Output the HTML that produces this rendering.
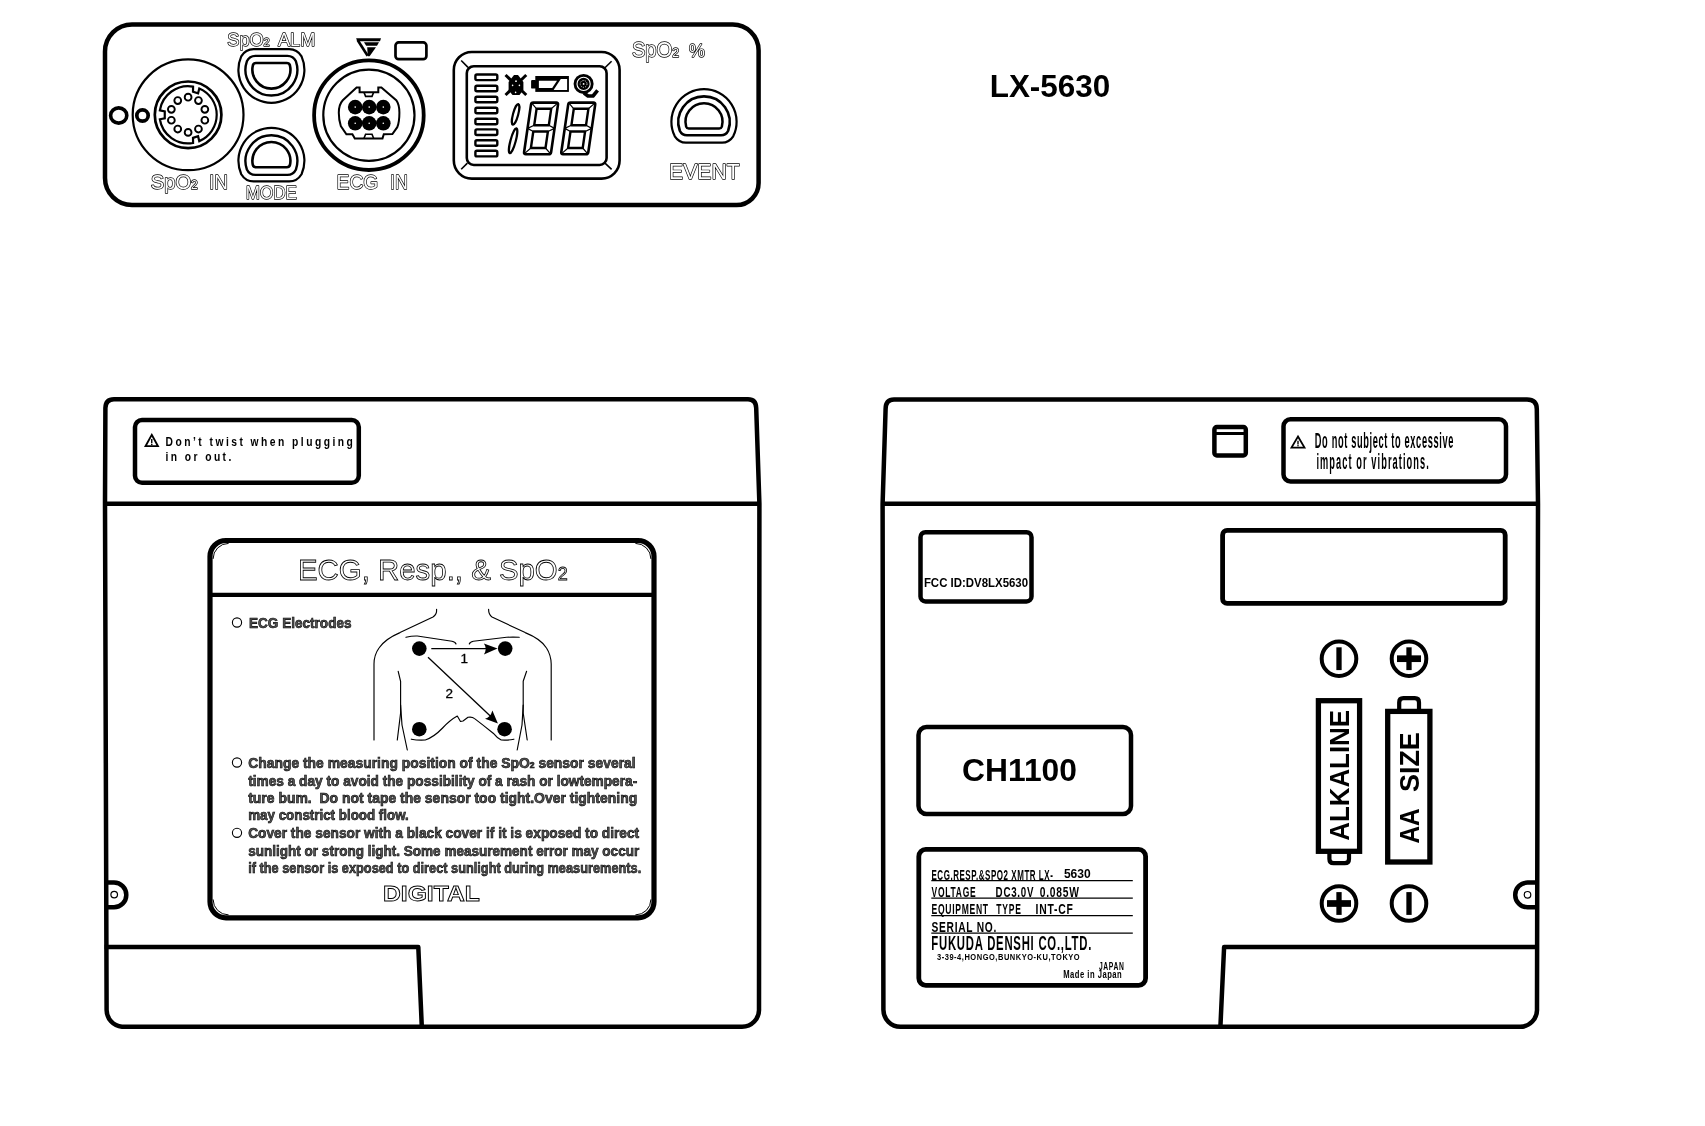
<!DOCTYPE html>
<html><head><meta charset="utf-8">
<style>
html,body{margin:0;padding:0;background:#fff;}
svg{display:block;will-change:transform;}
text{font-family:"Liberation Sans",sans-serif;}
</style></head>
<body>
<svg width="1705" height="1126" viewBox="0 0 1705 1126">
<rect x="0" y="0" width="1705" height="1126" fill="#fff"/>
<g fill="none" stroke="#000" stroke-linejoin="round">
<path d="M132,24.4 L732,24.4 A26,26 0 0 1 758.6,50.4 L758.6,183 A22,22 0 0 1 736.6,205 L132,205 A27,27 0 0 1 105,178 L105,51.4 A27,27 0 0 1 132,24.4 Z" stroke-width="4.5"/>
<circle cx="188.1" cy="114.8" r="55.4" stroke-width="2.2"/>
<circle cx="188.1" cy="114.8" r="33.3" stroke-width="2.7"/>
<path d="M199.27,88.47 A28.6,28.6 0 0 1 199.27,141.13 L198.07,136.19 L193.01,137.88 L193.07,142.97 A28.6,28.6 0 0 1 159.85,119.27 L164.76,118.29 L164.76,111.31 L159.85,110.33 A28.6,28.6 0 0 1 193.07,86.63 L193.01,91.72 L198.07,93.41 Z" stroke-width="2.2" stroke-linejoin="miter"/>
<circle cx="188.10" cy="97.20" r="3.4" stroke-width="1.9"/>
<circle cx="198.45" cy="100.56" r="3.4" stroke-width="1.9"/>
<circle cx="204.84" cy="109.36" r="3.4" stroke-width="1.9"/>
<circle cx="204.84" cy="120.24" r="3.4" stroke-width="1.9"/>
<circle cx="198.45" cy="129.04" r="3.4" stroke-width="1.9"/>
<circle cx="188.10" cy="132.40" r="3.4" stroke-width="1.9"/>
<circle cx="177.75" cy="129.04" r="3.4" stroke-width="1.9"/>
<circle cx="171.36" cy="120.24" r="3.4" stroke-width="1.9"/>
<circle cx="171.36" cy="109.36" r="3.4" stroke-width="1.9"/>
<circle cx="177.75" cy="100.56" r="3.4" stroke-width="1.9"/>
<ellipse cx="118.7" cy="115.5" rx="8.1" ry="7.6" stroke-width="3.6"/>
<circle cx="142.5" cy="115.5" r="5.7" stroke-width="3.7"/>
</g>
<g fill="none" stroke="#000">
<path d="M253.62,49.20 L289.18,49.20 Q297.18,49.20 301.56,56.40 A33.0,33.0 0 1 1 241.24,56.40 Q245.62,49.20 253.62,49.20 Z" stroke-width="2.2"/>
<path d="M255.42,55.90 L287.38,55.90 Q293.38,55.90 295.93,61.30 A25.9,25.9 0 1 1 246.87,61.30 Q249.42,55.90 255.42,55.90 Z" stroke-width="2.4"/>
<path d="M256.08,63.00 L286.72,63.00 Q289.22,63.00 289.90,65.25 A19.0,19.0 0 1 1 252.90,65.25 Q253.58,63.00 256.08,63.00 Z" stroke-width="2.6"/>
<path d="M253.62,181.40 L289.18,181.40 Q297.18,181.40 301.56,174.20 A33.0,33.0 0 1 0 241.24,174.20 Q245.62,181.40 253.62,181.40 Z" stroke-width="2.2"/>
<path d="M255.42,174.90 L287.38,174.90 Q293.38,174.90 295.93,169.50 A25.9,25.9 0 1 0 246.87,169.50 Q249.42,174.90 255.42,174.90 Z" stroke-width="2.4"/>
<path d="M255.94,167.20 L286.86,167.20 Q289.36,167.20 289.98,164.95 A19.0,19.0 0 1 0 252.82,164.95 Q253.44,167.20 255.94,167.20 Z" stroke-width="2.6"/>
<path d="M685.90,142.60 L722.10,142.60 Q729.10,142.60 733.20,136.30 A32.6,32.6 0 1 0 674.80,136.30 Q678.90,142.60 685.90,142.60 Z" stroke-width="2.2"/>
<path d="M686.95,135.30 L721.05,135.30 Q726.05,135.30 728.18,130.80 A25.7,25.7 0 1 0 679.82,130.80 Q681.95,135.30 686.95,135.30 Z" stroke-width="2.6"/>
<path d="M688.74,128.50 L719.26,128.50 Q721.26,128.50 721.85,126.70 A18.5,18.5 0 1 0 686.15,126.70 Q686.74,128.50 688.74,128.50 Z" stroke-width="2.5"/>
</g>
<g fill="none" stroke="#000">
<circle cx="368.9" cy="115.2" r="54.8" stroke-width="3.8"/>
<circle cx="368.9" cy="115.2" r="45.6" stroke-width="2.2"/>
<path d="M356.6,87.4 L359.6,87.4 L359.6,92.2 L378.3,92.2 L378.3,87.4 L381.4,87.4 L396.2,100.2 Q399.4,104.5 399.4,112.8 Q399.4,122 397.3,127.2 L392.4,134 L383.8,134.2 L382.5,138.4 L354.8,138.4 L352.4,134.2 L346.4,134.2 L340.8,126 Q338.8,120 338.8,112.8 Q338.8,104.5 342.8,100.2 Z" stroke-width="2"/>
<path d="M364,92.4 L365.6,96.4 L372,96.4 L373.6,92.4 M364,138.2 L365.6,134.2 L372,134.2 L373.6,138.2" stroke-width="1.6"/>
</g>
<g fill="#000">
<circle cx="355.2" cy="107.1" r="7.3"/>
<circle cx="369.2" cy="107.1" r="7.3"/>
<circle cx="383.3" cy="107.1" r="7.3"/>
<circle cx="355.2" cy="123.3" r="7.3"/>
<circle cx="369.2" cy="123.3" r="7.3"/>
<circle cx="383.3" cy="123.3" r="7.3"/>
</g>
<g fill="#fff">
<circle cx="355.2" cy="107.1" r="0.8"/>
<circle cx="369.2" cy="107.1" r="0.8"/>
<circle cx="383.3" cy="107.1" r="0.8"/>
<circle cx="355.2" cy="123.3" r="0.8"/>
<circle cx="369.2" cy="123.3" r="0.8"/>
<circle cx="383.3" cy="123.3" r="0.8"/>
</g>
<path d="M356.1,38.2 L381,38.2 L380,41.2 L357.3,41.2 Z" fill="#000"/>
<line x1="357.6" y1="40" x2="367.6" y2="55.8" stroke="#000" stroke-width="2.6"/>
<path d="M364,42.2 L379,42.2 L377,45.8 L366.2,45.8 Z" fill="#000"/>
<path d="M367.2,47.3 L376,47.3 L369.6,56.2 L367.8,56.2 Z" fill="#000"/>
<rect x="395.5" y="42.4" width="30.9" height="16.8" rx="3.2" fill="none" stroke="#000" stroke-width="2.7"/>
<g fill="none" stroke="#000" stroke-width="2.6">
<rect x="453.8" y="52" width="165.8" height="126.6" rx="18"/>
<rect x="466.8" y="66.2" width="139.8" height="98.8" rx="7"/>
</g>
<g stroke="#000" stroke-width="1.6">
<line x1="461.2" y1="60.5" x2="468" y2="67.4"/><line x1="611.6" y1="61.2" x2="604.7" y2="68"/>
<line x1="461.2" y1="169.3" x2="467.4" y2="163.1"/><line x1="611.6" y1="169.3" x2="605" y2="163.1"/>
</g>
<g fill="none" stroke="#000" stroke-width="2.4">
<rect x="475.4" y="74.5" width="21.9" height="5.6" rx="1.5"/>
<rect x="475.4" y="85.7" width="21.9" height="5.6" rx="1.5"/>
<rect x="475.4" y="96.7" width="21.9" height="5.6" rx="1.5"/>
<rect x="475.4" y="107.7" width="21.9" height="5.6" rx="1.5"/>
<rect x="475.4" y="118.7" width="21.9" height="5.6" rx="1.5"/>
<rect x="475.4" y="129.4" width="21.9" height="5.6" rx="1.5"/>
<rect x="475.4" y="140.2" width="21.9" height="5.6" rx="1.5"/>
<rect x="475.4" y="150.8" width="21.9" height="5.6" rx="1.5"/>
</g>
<g stroke="#000" stroke-width="3" fill="none" stroke-linecap="square">
<line x1="506.6" y1="76" x2="525.2" y2="94"/><line x1="525.2" y1="76" x2="506.6" y2="94"/>
</g>
<path d="M514,75 L518,75 L523.4,82 L523.4,90 L519.5,95 L512.5,95 L508.6,90 L508.6,82 Z" fill="#000"/>
<g fill="#fff"><circle cx="516" cy="81.2" r="0.9"/><circle cx="512.6" cy="85.4" r="0.8"/><circle cx="519.4" cy="85.4" r="0.8"/><circle cx="515.6" cy="92.4" r="0.8"/></g>
<rect x="531.1" y="79.9" width="5" height="8.7" rx="1.2" fill="#000"/>
<rect x="535.3" y="76" width="33.6" height="15.9" fill="#000"/>
<path d="M538.9,80.8 L557,80.8 L552.2,88 L538.9,88 Z" fill="#fff"/>
<path d="M560.8,79 L567.1,79 L567.1,89.9 L553.6,89.9 Z" fill="#fff"/>
<circle cx="583.6" cy="83.9" r="10" fill="#000"/>
<circle cx="583.6" cy="83.9" r="6.6" fill="none" stroke="#fff" stroke-width="1.1"/>
<circle cx="583.6" cy="83.9" r="3.4" fill="none" stroke="#fff" stroke-width="0.8" stroke-dasharray="1.2 1.2"/>
<circle cx="583.6" cy="83.9" r="0.9" fill="#fff"/>
<path d="M584,93 L588,96 L593,96 L597.6,90.4" fill="none" stroke="#000" stroke-width="3.6" stroke-linejoin="round"/>
<g fill="none" stroke="#000" stroke-width="2.2">
<ellipse cx="0" cy="0" rx="2.6" ry="10.6" transform="translate(515.6,114.4) rotate(15)"/>
<ellipse cx="0" cy="0" rx="2.6" ry="12.8" transform="translate(513.1,140.8) rotate(15)"/>
</g>
<g fill="none" stroke="#000" stroke-linejoin="round">
<path d="M533.28,102.60 L556.28,102.60 Q558.28,102.60 557.99,104.60 L551.09,152.20 Q550.80,154.20 548.80,154.20 L525.80,154.20 Q523.80,154.20 524.09,152.20 L530.99,104.60 Q531.28,102.60 533.28,102.60 Z" stroke-width="2.6"/><path d="M536.58,108.80 L551.18,108.80 L548.79,125.30 L534.19,125.30 Z" stroke-width="2.4"/><path d="M533.29,131.50 L547.89,131.50 L545.50,148.00 L530.90,148.00 Z" stroke-width="2.4"/><path d="M531.97,103.40 L536.58,108.80 M557.37,103.40 L551.18,108.80 M524.72,153.40 L530.90,148.00 M550.12,153.40 L545.50,148.00 M527.54,128.40 L534.19,125.30 M527.54,128.40 L533.29,131.50 M554.54,128.40 L548.79,125.30 M554.54,128.40 L547.89,131.50" stroke-width="1.2"/>
<path d="M570.48,102.60 L593.48,102.60 Q595.48,102.60 595.19,104.60 L588.29,152.20 Q588.00,154.20 586.00,154.20 L563.00,154.20 Q561.00,154.20 561.29,152.20 L568.19,104.60 Q568.48,102.60 570.48,102.60 Z" stroke-width="2.6"/><path d="M573.78,108.80 L588.38,108.80 L585.99,125.30 L571.39,125.30 Z" stroke-width="2.4"/><path d="M570.49,131.50 L585.09,131.50 L582.70,148.00 L568.10,148.00 Z" stroke-width="2.4"/><path d="M569.17,103.40 L573.78,108.80 M594.57,103.40 L588.38,108.80 M561.92,153.40 L568.10,148.00 M587.32,153.40 L582.70,148.00 M564.74,128.40 L571.39,125.30 M564.74,128.40 L570.49,131.50 M591.74,128.40 L585.99,125.30 M591.74,128.40 L585.09,131.50" stroke-width="1.2"/>
</g>
<text x="227.3" y="45.6" font-size="18.8" font-weight="normal" fill="#000" stroke="#000" stroke-width="1.4" stroke-linejoin="round" textLength="42.5" lengthAdjust="spacingAndGlyphs" text-anchor="start" style="font-family:'Liberation Sans',sans-serif" >SpO<tspan font-size="11.5">2</tspan></text><text x="227.3" y="45.6" font-size="18.8" font-weight="normal" fill="#fff" textLength="42.5" lengthAdjust="spacingAndGlyphs" text-anchor="start" style="font-family:'Liberation Sans',sans-serif" >SpO<tspan font-size="11.5">2</tspan></text>
<text x="278" y="45.6" font-size="18.8" font-weight="normal" fill="#000" stroke="#000" stroke-width="1.4" stroke-linejoin="round" textLength="37.3" lengthAdjust="spacingAndGlyphs" text-anchor="start" style="font-family:'Liberation Sans',sans-serif" >ALM</text><text x="278" y="45.6" font-size="18.8" font-weight="normal" fill="#fff" textLength="37.3" lengthAdjust="spacingAndGlyphs" text-anchor="start" style="font-family:'Liberation Sans',sans-serif" >ALM</text>
<text x="150.8" y="188.6" font-size="20" font-weight="normal" fill="#000" stroke="#000" stroke-width="1.4" stroke-linejoin="round" textLength="47" lengthAdjust="spacingAndGlyphs" text-anchor="start" style="font-family:'Liberation Sans',sans-serif" >SpO<tspan font-size="12">2</tspan></text><text x="150.8" y="188.6" font-size="20" font-weight="normal" fill="#fff" textLength="47" lengthAdjust="spacingAndGlyphs" text-anchor="start" style="font-family:'Liberation Sans',sans-serif" >SpO<tspan font-size="12">2</tspan></text>
<text x="208.9" y="188.6" font-size="20" font-weight="normal" fill="#000" stroke="#000" stroke-width="1.4" stroke-linejoin="round" textLength="19" lengthAdjust="spacingAndGlyphs" text-anchor="start" style="font-family:'Liberation Sans',sans-serif" >IN</text><text x="208.9" y="188.6" font-size="20" font-weight="normal" fill="#fff" textLength="19" lengthAdjust="spacingAndGlyphs" text-anchor="start" style="font-family:'Liberation Sans',sans-serif" >IN</text>
<text x="245.8" y="198.7" font-size="18.7" font-weight="normal" fill="#000" stroke="#000" stroke-width="1.4" stroke-linejoin="round" textLength="51.2" lengthAdjust="spacingAndGlyphs" text-anchor="start" style="font-family:'Liberation Sans',sans-serif" >MODE</text><text x="245.8" y="198.7" font-size="18.7" font-weight="normal" fill="#fff" textLength="51.2" lengthAdjust="spacingAndGlyphs" text-anchor="start" style="font-family:'Liberation Sans',sans-serif" >MODE</text>
<text x="336.6" y="189.2" font-size="20.9" font-weight="normal" fill="#000" stroke="#000" stroke-width="1.4" stroke-linejoin="round" textLength="41.7" lengthAdjust="spacingAndGlyphs" text-anchor="start" style="font-family:'Liberation Sans',sans-serif" >ECG</text><text x="336.6" y="189.2" font-size="20.9" font-weight="normal" fill="#fff" textLength="41.7" lengthAdjust="spacingAndGlyphs" text-anchor="start" style="font-family:'Liberation Sans',sans-serif" >ECG</text>
<text x="390" y="189.2" font-size="20.9" font-weight="normal" fill="#000" stroke="#000" stroke-width="1.4" stroke-linejoin="round" textLength="17.9" lengthAdjust="spacingAndGlyphs" text-anchor="start" style="font-family:'Liberation Sans',sans-serif" >IN</text><text x="390" y="189.2" font-size="20.9" font-weight="normal" fill="#fff" textLength="17.9" lengthAdjust="spacingAndGlyphs" text-anchor="start" style="font-family:'Liberation Sans',sans-serif" >IN</text>
<text x="631.9" y="57.4" font-size="21.4" font-weight="normal" fill="#000" stroke="#000" stroke-width="1.4" stroke-linejoin="round" textLength="47.2" lengthAdjust="spacingAndGlyphs" text-anchor="start" style="font-family:'Liberation Sans',sans-serif" >SpO<tspan font-size="13">2</tspan></text><text x="631.9" y="57.4" font-size="21.4" font-weight="normal" fill="#fff" textLength="47.2" lengthAdjust="spacingAndGlyphs" text-anchor="start" style="font-family:'Liberation Sans',sans-serif" >SpO<tspan font-size="13">2</tspan></text>
<text x="689.1" y="57.4" font-size="18" font-weight="normal" fill="#000" stroke="#000" stroke-width="1.4" stroke-linejoin="round" textLength="15.9" lengthAdjust="spacingAndGlyphs" text-anchor="start" style="font-family:'Liberation Sans',sans-serif" >%</text><text x="689.1" y="57.4" font-size="18" font-weight="normal" fill="#fff" textLength="15.9" lengthAdjust="spacingAndGlyphs" text-anchor="start" style="font-family:'Liberation Sans',sans-serif" >%</text>
<text x="669" y="178.8" font-size="22" font-weight="normal" fill="#000" stroke="#000" stroke-width="1.4" stroke-linejoin="round" textLength="70.7" lengthAdjust="spacingAndGlyphs" text-anchor="start" style="font-family:'Liberation Sans',sans-serif" >EVENT</text><text x="669" y="178.8" font-size="22" font-weight="normal" fill="#fff" textLength="70.7" lengthAdjust="spacingAndGlyphs" text-anchor="start" style="font-family:'Liberation Sans',sans-serif" >EVENT</text>
<text x="989.7" y="96.8" font-size="31.5" font-weight="bold" fill="#000" textLength="120.6" lengthAdjust="spacingAndGlyphs" text-anchor="start" style="font-family:'Liberation Sans',sans-serif" >LX-5630</text>
<g fill="none" stroke="#000" stroke-width="4.5" stroke-linejoin="round">
<path d="M114,399.2 L748,399.2 Q756,399.2 756.2,408 L759.4,503.7 L759,1009 A17,17 0 0 1 742,1026.8 L122,1026.8 A17,17 0 0 1 106.6,1009.8 L105,503.7 L105.4,408 Q105.6,399.2 114,399.2 Z"/>
<line x1="104.6" y1="503.7" x2="759.4" y2="503.7"/>
<path d="M104.6,947 L418.3,947 L421.8,1026.8"/>
<path d="M105,882.6 L114,882.6 A12.3,12.3 0 0 1 114,907.2 L105,907.2"/>
<rect x="135" y="420" width="223.8" height="62.8" rx="7"/>
</g>
<circle cx="114.2" cy="894.6" r="3.3" fill="none" stroke="#000" stroke-width="1.2"/>
<path d="M151.75,434.8 L158,446.2 L145.5,446.2 Z" fill="none" stroke="#000" stroke-width="1.8" stroke-linejoin="miter"/><line x1="151.75" y1="439.1" x2="151.75" y2="443.0" stroke="#000" stroke-width="1.4"/><circle cx="151.75" cy="444.4" r="0.8" fill="#000"/>
<text x="0" y="0" font-size="13.2" font-weight="bold" fill="#000" textLength="240.00" lengthAdjust="spacing" text-anchor="start" style="font-family:'Liberation Sans',sans-serif"  transform="translate(165.6,445.8) scale(0.78,1)">Don’t twist when plugging</text>
<text x="0" y="0" font-size="13.2" font-weight="bold" fill="#000" textLength="84.23" lengthAdjust="spacing" text-anchor="start" style="font-family:'Liberation Sans',sans-serif"  transform="translate(165.6,461) scale(0.78,1)">in or out.</text>
<g fill="none" stroke="#000" stroke-linejoin="round">
<rect x="210" y="540.5" width="444" height="377.3" rx="16" stroke-width="5.2"/>
<line x1="210" y1="594.9" x2="654" y2="594.9" stroke-width="4.2"/>
</g>
<path d="M213.1,558.9 A15.5,15.5 0 0 1 228.6,543.4 M635.4,543.4 A15.5,15.5 0 0 1 650.9,558.9 M650.9,899.4 A15.5,15.5 0 0 1 635.4,914.9 M228.6,914.9 A15.5,15.5 0 0 1 213.1,899.4" fill="none" stroke="#000" stroke-width="1"/>
<text x="298" y="579.5" font-size="29.5" font-weight="normal" fill="#fff" stroke="#000" stroke-width="0.8" textLength="269.7" lengthAdjust="spacingAndGlyphs" text-anchor="start" style="font-family:'Liberation Sans',sans-serif" >ECG, Resp., &amp; SpO<tspan font-size="18">2</tspan></text>
<circle cx="237" cy="622.5" r="4.6" fill="none" stroke="#000" stroke-width="1.1"/>
<circle cx="237" cy="762.5" r="4.6" fill="none" stroke="#000" stroke-width="1.1"/>
<circle cx="237" cy="832.8" r="4.6" fill="none" stroke="#000" stroke-width="1.1"/>
<text x="249" y="627.9" font-size="14.5" font-weight="bold" fill="#555" stroke="#000" stroke-width="0.6" textLength="102.5" lengthAdjust="spacingAndGlyphs" text-anchor="start" style="font-family:'Liberation Sans',sans-serif" >ECG Electrodes</text>
<text x="248.2" y="768.0" font-size="14.5" font-weight="bold" fill="#555" stroke="#000" stroke-width="0.6" textLength="387.5" lengthAdjust="spacingAndGlyphs" text-anchor="start" style="font-family:'Liberation Sans',sans-serif" >Change the measuring position of the SpO<tspan font-size="9">2</tspan> sensor several</text>
<text x="248.2" y="785.6" font-size="14.5" font-weight="bold" fill="#555" stroke="#000" stroke-width="0.6" textLength="389" lengthAdjust="spacingAndGlyphs" text-anchor="start" style="font-family:'Liberation Sans',sans-serif" >times a day to avoid the possibility of a rash or lowtempera-</text>
<text x="248.2" y="803.0" font-size="14.5" font-weight="bold" fill="#555" stroke="#000" stroke-width="0.6" textLength="389" lengthAdjust="spacingAndGlyphs" text-anchor="start" style="font-family:'Liberation Sans',sans-serif" >ture bum.&#160; Do not tape the sensor too tight.Over tightening</text>
<text x="248.2" y="820.3" font-size="14.5" font-weight="bold" fill="#555" stroke="#000" stroke-width="0.6" textLength="160.6" lengthAdjust="spacingAndGlyphs" text-anchor="start" style="font-family:'Liberation Sans',sans-serif" >may constrict blood flow.</text>
<text x="248.2" y="838.4" font-size="14.5" font-weight="bold" fill="#555" stroke="#000" stroke-width="0.6" textLength="391" lengthAdjust="spacingAndGlyphs" text-anchor="start" style="font-family:'Liberation Sans',sans-serif" >Cover the sensor with a black cover if it is exposed to direct</text>
<text x="248.2" y="855.8" font-size="14.5" font-weight="bold" fill="#555" stroke="#000" stroke-width="0.6" textLength="391" lengthAdjust="spacingAndGlyphs" text-anchor="start" style="font-family:'Liberation Sans',sans-serif" >sunlight or strong light. Some measurement error may occur</text>
<text x="248.2" y="873.2" font-size="14.5" font-weight="bold" fill="#555" stroke="#000" stroke-width="0.6" textLength="393" lengthAdjust="spacingAndGlyphs" text-anchor="start" style="font-family:'Liberation Sans',sans-serif" >if the sensor is exposed to direct sunlight during measurements.</text>
<text x="383" y="901.2" font-size="22.5" font-weight="bold" fill="#fff" stroke="#000" stroke-width="0.9" textLength="96.8" lengthAdjust="spacingAndGlyphs" text-anchor="start" style="font-family:'Liberation Sans',sans-serif" >DIGITAL</text>
<g fill="none" stroke="#000" stroke-width="1.15" stroke-linecap="round" stroke-linejoin="round">
<path d="M436.6,609.3 Q437,614.5 433,617 L400,632.6 Q385,639 379,648 Q374,655 374,664 L374,740"/>
<path d="M488.6,609.3 Q488.5,614.5 492,617 L525.2,632.6 Q541,639 546.5,648 Q551,655 551.2,664 L551.2,740"/>
<path d="M406,637.3 Q412,635.8 417.3,636 L452,641.3 Q455.5,642 456,644"/>
<path d="M469.3,644 Q469.8,642 473.3,641.3 L506.6,637.3 Q513,637 519.2,637.3"/>
<path d="M398.2,671.3 L400.6,681.3 L400.6,713 L397.3,740"/>
<path d="M400.6,705 L402,725 L407.3,750"/>
<path d="M526.6,671.3 L523.2,681.3 L523.2,713 L527.2,740"/>
<path d="M523.2,705 L522,725 L517.2,750"/>
<path d="M411.3,739.2 Q418,740.5 425.3,740 Q434,737 442.6,728 Q450,720 457.3,716 L460.5,721.5 L463,721 L468,717.3 Q472,716.5 474.6,718.6 Q483,725 493.2,733.2 Q497,738 501.2,740 Q507,740.5 513.9,739.2"/>
</g>
<g fill="#000">
<circle cx="419.3" cy="648.6" r="7.3"/>
<circle cx="505.2" cy="648.6" r="7.3"/>
<circle cx="419.3" cy="729.2" r="7.3"/>
<circle cx="504.6" cy="729.2" r="7.3"/>
</g>
<g stroke="#000" stroke-width="1.3" fill="none"><line x1="431.3" y1="648.6" x2="490" y2="648.6"/><line x1="428" y1="657.3" x2="494" y2="719.5"/></g>
<path d="M497.5,648.6 L483.9,643.6 Q487.5,648.6 483.9,654.6 Z" fill="#000"/>
<path d="M497.9,723.5 L492.4,710.5 Q490.5,717.5 485,718.8 Z" fill="#000"/>
<text x="460.6" y="663.3" font-size="13.5" font-weight="normal" fill="#000" stroke="#000" stroke-width="0.3" text-anchor="start" style="font-family:'Liberation Sans',sans-serif" >1</text>
<text x="445.5" y="698" font-size="13.5" font-weight="normal" fill="#000" stroke="#000" stroke-width="0.3" text-anchor="start" style="font-family:'Liberation Sans',sans-serif" >2</text>
<g fill="none" stroke="#000" stroke-width="4.5" stroke-linejoin="round">
<path d="M894,399.4 L1527,399.4 Q1536.8,399.4 1536.8,409 L1538,503.7 L1537,1009 A17,17 0 0 1 1520,1026.8 L900.5,1026.8 A17,17 0 0 1 883.4,1009.8 L882.6,503.7 L885.6,409 Q885.6,399.4 894,399.4 Z"/>
<line x1="882.6" y1="503.7" x2="1538" y2="503.7"/>
<path d="M1538,947 L1224.1,947 L1220.4,1026.8"/>
<path d="M1537.5,882.6 L1527.5,882.6 A12.3,12.3 0 0 0 1527.5,907.2 L1537.5,907.2"/>
<rect x="1283.5" y="419.3" width="222.5" height="62.2" rx="7"/>
<rect x="1214.4" y="427" width="31.4" height="28.5" rx="2.5"/>
<rect x="920.5" y="532.2" width="111" height="69.2" rx="5"/>
<rect x="1222.6" y="530.4" width="282.6" height="73" rx="4.5" stroke-width="4.8"/>
<rect x="918.5" y="727" width="212.5" height="87" rx="8"/>
</g>
<rect x="918.8" y="849.4" width="226.8" height="135.9" rx="7" fill="none" stroke="#000" stroke-width="4.8"/>
<line x1="1214.4" y1="433.5" x2="1245.8" y2="433.5" stroke="#000" stroke-width="3"/>
<circle cx="1527.5" cy="894.8" r="3.3" fill="none" stroke="#000" stroke-width="1.2"/>
<path d="M1298.0,436.5 L1304.5,447.6 L1291.5,447.6 Z" fill="none" stroke="#000" stroke-width="1.8" stroke-linejoin="miter"/><line x1="1298.0" y1="440.7" x2="1298.0" y2="444.5" stroke="#000" stroke-width="1.4"/><circle cx="1298.0" cy="445.8" r="0.8" fill="#000"/>
<text x="0" y="0" font-size="21.5" font-weight="bold" fill="#000" textLength="322.33" lengthAdjust="spacing" text-anchor="start" style="font-family:'Liberation Sans',sans-serif"  transform="translate(1314.8,447.7) scale(0.43,1)">Do not subject to excessive</text>
<text x="0" y="0" font-size="21.5" font-weight="bold" fill="#000" textLength="261.40" lengthAdjust="spacing" text-anchor="start" style="font-family:'Liberation Sans',sans-serif"  transform="translate(1316.4,468.6) scale(0.43,1)">impact or vibrations.</text>
<text x="923.9" y="586.7" font-size="11.9" font-weight="bold" fill="#000" textLength="104.2" lengthAdjust="spacingAndGlyphs" text-anchor="start" style="font-family:'Liberation Sans',sans-serif" >FCC ID:DV8LX5630</text>
<text x="962" y="780.7" font-size="32" font-weight="bold" fill="#000" textLength="115" lengthAdjust="spacingAndGlyphs" text-anchor="start" style="font-family:'Liberation Sans',sans-serif" >CH1100</text>
<text x="0" y="0" font-size="15.4" font-weight="bold" fill="#000" textLength="234.17" lengthAdjust="spacing" text-anchor="start" style="font-family:'Liberation Sans',sans-serif"  transform="translate(931.5,879.5) scale(0.518,1)">ECG.RESP.&amp;SPO2 XMTR LX-</text>
<text x="1063.9" y="878.2" font-size="12.5" font-weight="bold" fill="#000" textLength="26.8" lengthAdjust="spacingAndGlyphs" text-anchor="start" style="font-family:'Liberation Sans',sans-serif" >5630</text>
<text x="0" y="0" font-size="15.4" font-weight="bold" fill="#000" textLength="80.18" lengthAdjust="spacing" text-anchor="start" style="font-family:'Liberation Sans',sans-serif"  transform="translate(931.5,896.7) scale(0.55,1)">VOLTAGE</text>
<text x="0" y="0" font-size="15.4" font-weight="bold" fill="#000" textLength="59.87" lengthAdjust="spacing" text-anchor="start" style="font-family:'Liberation Sans',sans-serif"  transform="translate(995.6,896.7) scale(0.633,1)">DC3.0V</text>
<text x="0" y="0" font-size="15.4" font-weight="bold" fill="#000" textLength="58.92" lengthAdjust="spacing" text-anchor="start" style="font-family:'Liberation Sans',sans-serif"  transform="translate(1039.7,896.7) scale(0.667,1)">0.085W</text>
<text x="0" y="0" font-size="15.4" font-weight="bold" fill="#000" textLength="101.62" lengthAdjust="spacing" text-anchor="start" style="font-family:'Liberation Sans',sans-serif"  transform="translate(931.5,913.9) scale(0.556,1)">EQUIPMENT</text>
<text x="0" y="0" font-size="15.4" font-weight="bold" fill="#000" textLength="44.67" lengthAdjust="spacing" text-anchor="start" style="font-family:'Liberation Sans',sans-serif"  transform="translate(996.3,913.9) scale(0.553,1)">TYPE</text>
<text x="0" y="0" font-size="15.4" font-weight="bold" fill="#000" textLength="55.11" lengthAdjust="spacing" text-anchor="start" style="font-family:'Liberation Sans',sans-serif"  transform="translate(1035.6,913.9) scale(0.675,1)">INT-CF</text>
<text x="0" y="0" font-size="15.4" font-weight="bold" fill="#000" textLength="97.59" lengthAdjust="spacing" text-anchor="start" style="font-family:'Liberation Sans',sans-serif"  transform="translate(931.5,931.6) scale(0.664,1)">SERIAL NO.</text>
<text x="0" y="0" font-size="19.3" font-weight="bold" fill="#000" textLength="272.74" lengthAdjust="spacing" text-anchor="start" style="font-family:'Liberation Sans',sans-serif"  transform="translate(931.3,950.4) scale(0.587,1)">FUKUDA DENSHI CO.,LTD.</text>
<text x="0" y="0" font-size="9.8" font-weight="bold" fill="#000" textLength="186.78" lengthAdjust="spacing" text-anchor="start" style="font-family:'Liberation Sans',sans-serif"  transform="translate(937,960.1) scale(0.764,1)">3-39-4,HONGO,BUNKYO-KU,TOKYO</text>
<text x="0" y="0" font-size="10.3" font-weight="bold" fill="#000" textLength="37.92" lengthAdjust="spacing" text-anchor="start" style="font-family:'Liberation Sans',sans-serif"  transform="translate(1099,969.7) scale(0.654,1)">JAPAN</text>
<text x="0" y="0" font-size="10.3" font-weight="bold" fill="#000" textLength="78.87" lengthAdjust="spacing" text-anchor="start" style="font-family:'Liberation Sans',sans-serif"  transform="translate(1063.2,978) scale(0.743,1)">Made in Japan</text>
<g stroke="#000" stroke-width="1.3">
<line x1="931.3" y1="880.6" x2="1132.8" y2="880.6"/>
<line x1="931.3" y1="898.1" x2="1132.8" y2="898.1"/>
<line x1="931.3" y1="915.6" x2="1132.8" y2="915.6"/>
<line x1="931.3" y1="933.2" x2="1132.8" y2="933.2"/>
</g>
<circle cx="1339" cy="658.7" r="17.3" fill="none" stroke="#000" stroke-width="4"/><rect x="1336.35" y="647.3000000000001" width="5.3" height="22.8" fill="#000"/>
<circle cx="1409" cy="658.7" r="17.3" fill="none" stroke="#000" stroke-width="4"/><rect x="1406.35" y="647.3000000000001" width="5.3" height="22.8" fill="#000"/><rect x="1397" y="655.35" width="24" height="6.7" fill="#000"/>
<circle cx="1339" cy="903.5" r="17.3" fill="none" stroke="#000" stroke-width="4"/><rect x="1336.35" y="892.1" width="5.3" height="22.8" fill="#000"/><rect x="1327" y="900.15" width="24" height="6.7" fill="#000"/>
<circle cx="1409" cy="903.5" r="17.3" fill="none" stroke="#000" stroke-width="4"/><rect x="1406.35" y="892.1" width="5.3" height="22.8" fill="#000"/>
<g fill="none" stroke="#000" stroke-linejoin="miter">
<rect x="1318.4" y="700.7" width="41.2" height="150.6" stroke-width="5.3"/>
<path d="M1329.4,853 L1329.4,859 Q1329.4,863.2 1333.6,863.2 L1344.8,863.2 Q1349,863.2 1349,859 L1349,853" stroke-width="4.2"/>
<rect x="1387.7" y="711.4" width="42.2" height="150.6" stroke-width="5.3"/>
<path d="M1399.2,710 L1399.2,702.4 Q1399.2,698.2 1403.4,698.2 L1414.8,698.2 Q1419,698.2 1419,702.4 L1419,710" stroke-width="4.2"/>
</g>
<g transform="translate(1349.0,840.7) rotate(-90)"><text x="0" y="0" font-size="27.2" font-weight="bold" fill="#000" textLength="130.7" lengthAdjust="spacingAndGlyphs" text-anchor="start" style="font-family:'Liberation Sans',sans-serif" >ALKALINE</text></g>
<g transform="translate(1419.0,843.6) rotate(-90)"><text x="0" y="0" font-size="28.4" font-weight="bold" fill="#000" textLength="35.3" lengthAdjust="spacingAndGlyphs" text-anchor="start" style="font-family:'Liberation Sans',sans-serif" >AA</text><text x="51.6" y="0" font-size="28.4" font-weight="bold" fill="#000" textLength="59.8" lengthAdjust="spacingAndGlyphs" text-anchor="start" style="font-family:'Liberation Sans',sans-serif" >SIZE</text></g>
</svg>
</body></html>
